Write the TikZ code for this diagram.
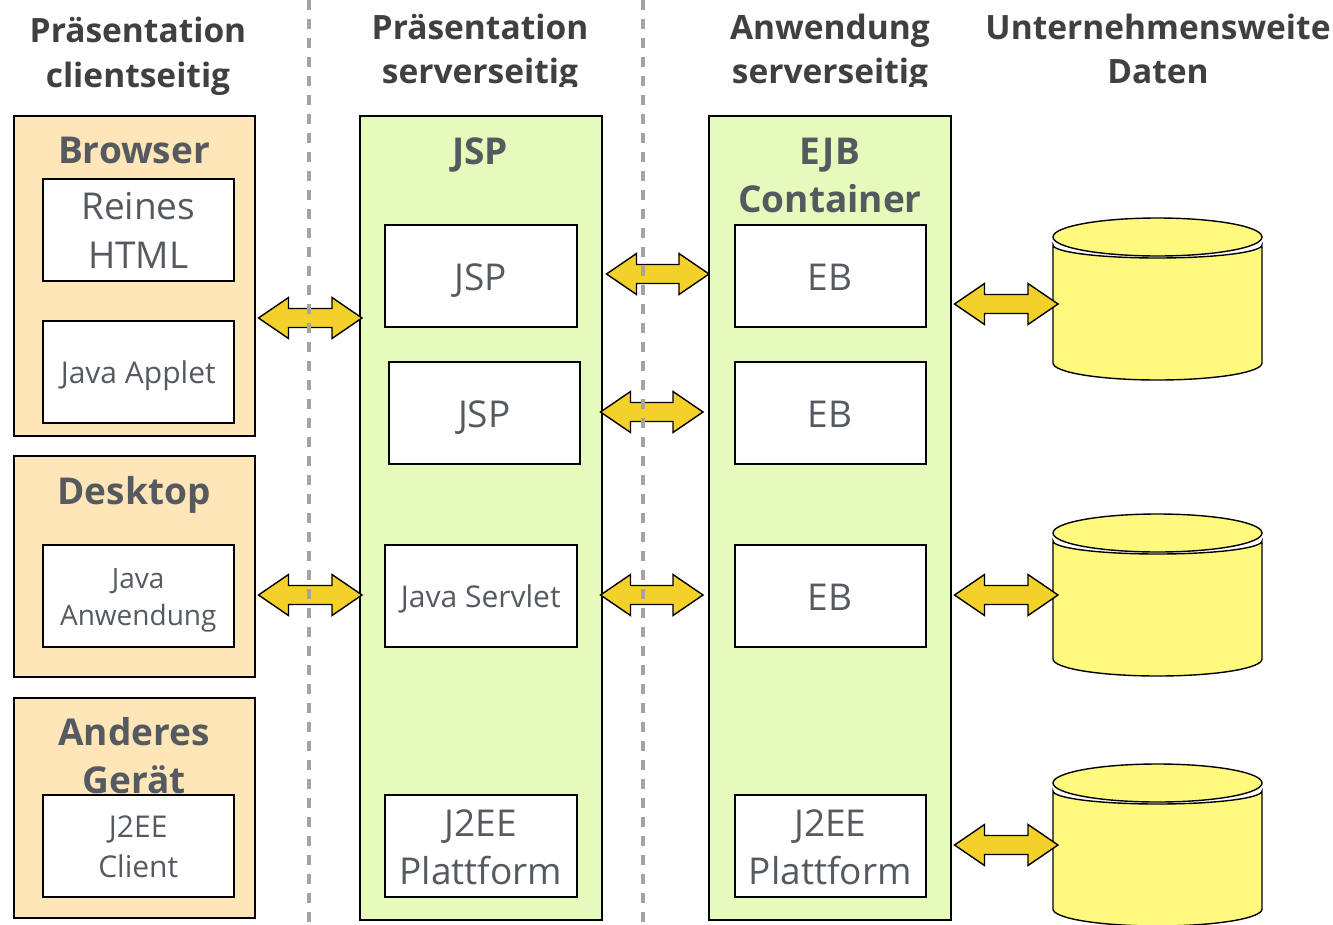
\documentclass[tikz,border=0pt]{standalone}
\usepackage{fontspec}
\setmainfont{Open Sans}
\usetikzlibrary{calc}
\definecolor{clientfill}{HTML}{FFE6B9}
\definecolor{serverfill}{HTML}{E6FBBB}
\definecolor{arrowfill}{HTML}{F3D02A}
\definecolor{dbfill}{HTML}{FFFA7D}
\definecolor{sepgray}{HTML}{A4A4A4}
\definecolor{boxtext}{HTML}{555A60}
\definecolor{headtext}{HTML}{404040}
\newcommand\bigtxt{\fontsize{37}{48}\selectfont}
\newcommand\smalltxt{\fontsize{30}{40}\selectfont}
\newcommand\smallertxt{\fontsize{28}{37}\selectfont}
\newcommand\titletxt{\bfseries\fontsize{37}{48}\selectfont}
\newcommand\headtxt{\bfseries\fontsize{33.5}{45}\selectfont}
% line strut: ascent and descent of a text line box
\newcommand\ls{\rule[-0.26em]{0pt}{1.29em}}
\tikzset{
  clientbox/.style={draw=black, line width=1.5pt, fill=clientfill, anchor=north west, inner sep=0pt, minimum width=241pt},
  serverbox/.style={draw=black, line width=1.5pt, fill=serverfill, anchor=north west, inner sep=0pt, minimum width=242pt, minimum height=804pt},
  innerbox/.style={draw=black, line width=1.5pt, fill=white, anchor=north west, inner sep=0pt, minimum width=191pt, minimum height=102pt, align=center, text=boxtext, font=\bigtxt},
  boxtitle/.style={anchor=base, text=boxtext, font=\titletxt, inner sep=0pt},
  header/.style={anchor=base, text=headtext, font=\headtxt, inner sep=0pt},
  blockarrow/.style={draw=black, line width=1.4pt, fill=arrowfill, line join=miter},
  dbstyle/.style={draw=black, line width=1.4pt, fill=dbfill},
  dbnode/.style={anchor=north west, inner sep=0pt, minimum width=209pt, minimum height=162pt},
  separator/.style={draw=sepgray, line width=4.5pt, dash pattern=on 10pt off 9pt},
}
% double block arrow between two named nodes: #1 left node, #2 right node, #3 image y, #4/#5 x offsets of the tips
\newcommand\dblarrow[5]{%
  \path let \p1=(#1.east), \p2=(#2.west) in
    ({\x1+(#4pt)},{-#3pt}) coordinate (L) ({\x2+(#5pt)},{-#3pt}) coordinate (R);
  \draw[blockarrow] (L) -- ++(30pt,20.5pt) -- ++(0pt,-11pt) -- ($(R)+(-30pt,9.5pt)$)
    -- ++(0pt,11pt) -- (R) -- ++(-30pt,-20.5pt) -- ++(0pt,11pt)
    -- ($(L)+(30pt,-9.5pt)$) -- ++(0pt,-11pt) -- cycle;
}
% cylinder drawn over a named node; #1 node, #2 top y
\newcommand\drawdb[2]{%
  \draw[dbstyle] (1053,{#2+27}) -- (1053,{#2+145})
    arc[start angle=180, end angle=360, x radius=104.5pt, y radius=17pt]
    -- (1262,{#2+27})
    arc[start angle=0, end angle=-180, x radius=104.5pt, y radius=13pt] -- cycle;
  \draw[dbstyle] (1157.5,{#2+19}) ellipse [x radius=104.5pt, y radius=19pt];
}
\begin{document}
\begin{tikzpicture}[x=1pt,y=-1pt]
\useasboundingbox[fill=white] (0,0) rectangle (1333,924);

% headers
\node[header] (h1a) at (138,42) {Präsentation};
\node[header] (h1b) at (138,87) {clientseitig};
\begin{scope}
  \clip (330,0) rectangle (1000,86);
  \node[header] (h2a) at (480,39) {Präsentation};
  \node[header] (h2b) at (480,83) {serverseitig};
  \node[header] (h3a) at (830,39) {Anwendung};
  \node[header] (h3b) at (830,83) {serverseitig};
\end{scope}
\node[header] (h4a) at (1158,39) {Unternehmensweite};
\node[header] (h4b) at (1158,83) {Daten};

% containers
\node[clientbox, minimum height=320pt] (browser) at (13,115) {};
\node[clientbox, minimum height=221pt] (desktop) at (13,455) {};
\node[clientbox, minimum height=220pt] (other) at (13,697) {};
\node[serverbox] (jspc) at (359,115) {};
\node[serverbox] (ejbc) at (708,115) {};

% container titles
\node[boxtitle] (browsert) at (134,163) {Browser};
\node[boxtitle] (desktopt) at (134,504) {Desktop};
\node[boxtitle] (othert1) at (134,745) {Anderes};
\node[boxtitle] (othert2) at (134,793) {Gerät};
\node[boxtitle] (jspt) at (480,164) {JSP};
\node[boxtitle] (ejbt1) at (830,164) {EJB};
\node[boxtitle] (ejbt2) at (830,212) {Container};

% inner boxes
\node[innerbox] (html) at (42,178) {\ls Reines\\\ls HTML};
\node[innerbox, font=\smalltxt] (applet) at (42,320) {\ls Java Applet};
\node[innerbox, font=\smallertxt] (javaapp) at (42,544) {\ls Java\\\ls Anwendung};
\node[innerbox, font=\smalltxt] (j2eeclient) at (42,794) {\ls J2EE\\\ls Client};
\node[innerbox, minimum width=192pt] (jsp1) at (384,224) {\ls JSP};
\node[innerbox] (jsp2) at (388,361) {\ls JSP};
\node[innerbox, minimum width=192pt, font=\smalltxt] (servlet) at (384,544) {\ls Java Servlet};
\node[innerbox, minimum width=192pt] (plat1) at (384,794) {\ls J2EE\\\ls Plattform};
\node[innerbox] (eb1) at (734,224) {\ls EB};
\node[innerbox] (eb2) at (734,361) {\ls EB};
\node[innerbox] (eb3) at (734,544) {\ls EB};
\node[innerbox] (plat2) at (734,794) {\ls J2EE\\\ls Plattform};

% databases
\node[dbnode] (db1) at (1053,218) {};
\node[dbnode] (db2) at (1053,514) {};
\node[dbnode] (db3) at (1053,764) {};
\drawdb{db1}{218}
\drawdb{db2}{514}
\drawdb{db3}{764}

% block arrows
\dblarrow{browser}{jspc}{318}{3}{3}
\dblarrow{desktop}{jspc}{595}{3}{3}
\dblarrow{jspc}{ejbc}{274}{4}{1}
\dblarrow{jspc}{ejbc}{412}{-2}{-5}
\dblarrow{jspc}{ejbc}{595}{-2}{-5}
\dblarrow{ejbc}{db1}{304}{3}{5}
\dblarrow{ejbc}{db2}{595}{3}{5}
\dblarrow{ejbc}{db3}{845}{3}{5}

% separators
\draw[separator] (309,0) -- (309,924);
\draw[separator] (643,0) -- (643,924);
\end{tikzpicture}
\end{document}
